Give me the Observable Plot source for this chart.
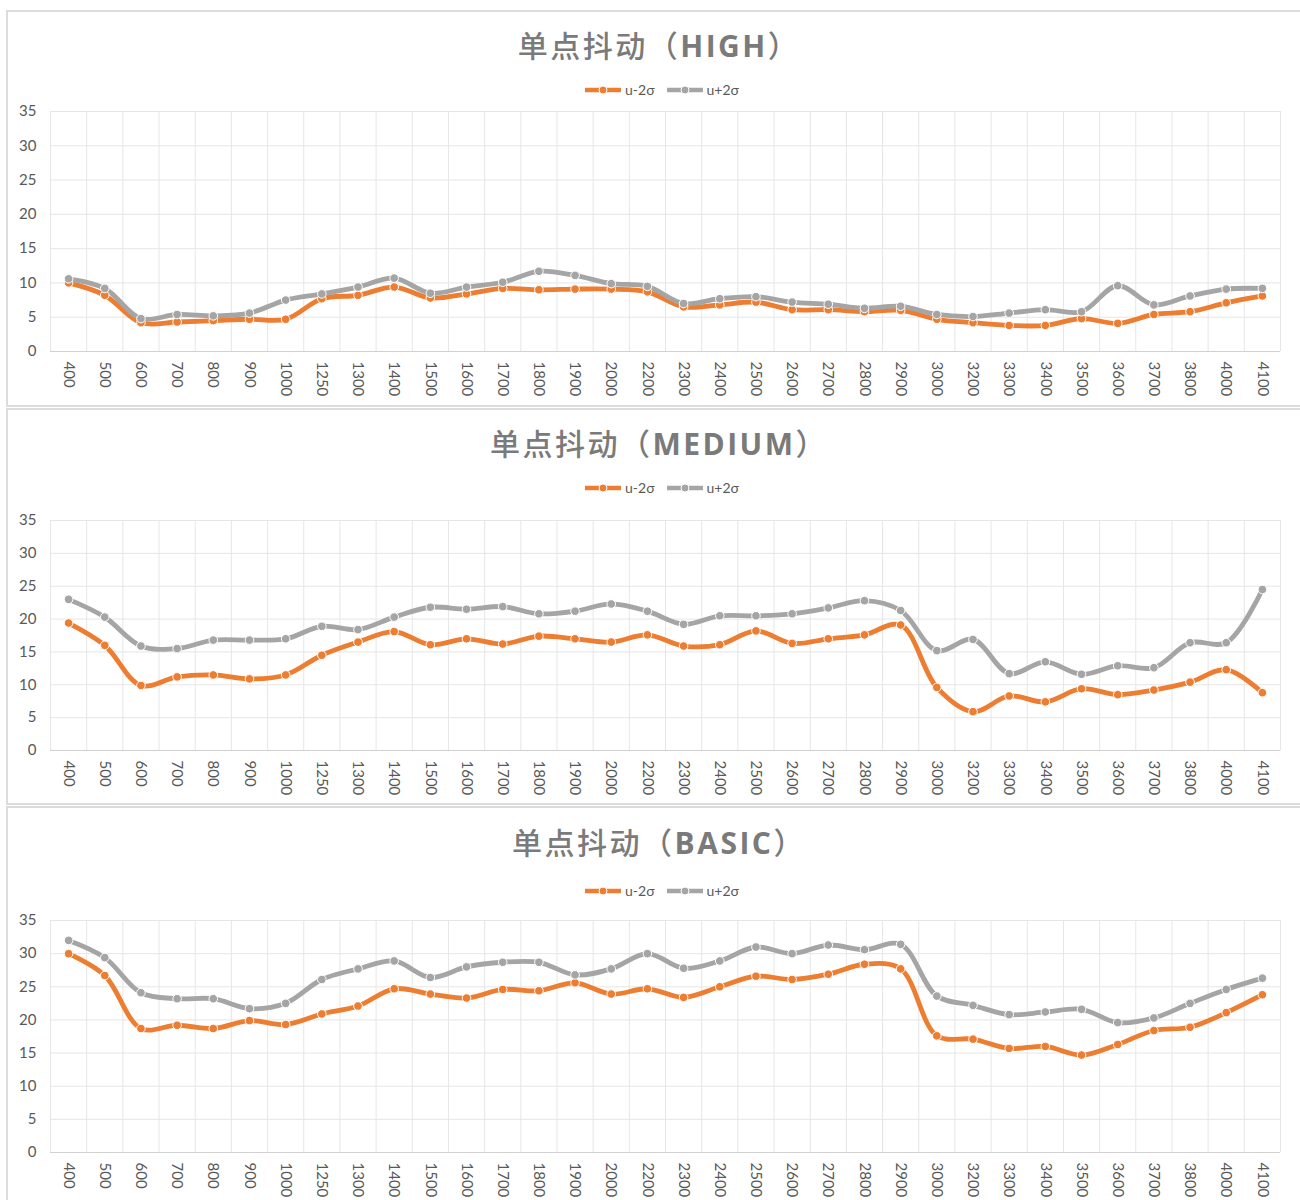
<!DOCTYPE html>
<html>
<head>
<meta charset="utf-8">
<script src="https://cdn.jsdelivr.net/npm/d3@7"></script>
<script src="https://cdn.jsdelivr.net/npm/@observablehq/plot@0.6"></script>
<style>
  html, body { margin: 0; padding: 0; background: #fff; }
  body { width: 1300px; height: 1200px; overflow: hidden; position: relative; font-family: Lato, "Noto Sans CJK SC", sans-serif; }
  .panel { position: absolute; left: 6px; width: 1310px; border: 2px solid #dcdcdc; box-sizing: border-box; background: #fff; }
  .title { position: absolute; left: 8px; width: 1302px; text-align: center; color: #7a7a7a; font-size: 30px; letter-spacing: 2.5px; line-height: 1; white-space: nowrap; }
  .title .cjk { font-family: "Noto Sans CJK SC", sans-serif; font-weight: 500; }
  .title .lat { font-family: "Open Sans", "Noto Sans", sans-serif; font-weight: 700; }
  .legend { position: absolute; left: 0; width: 1324px; text-align: center; font-size: 14px; color: #595959; line-height: 1; white-space: nowrap; }
  .legend .item { display: inline-flex; align-items: center; margin: 0 6px; }
  .legend svg { margin-right: 4px; }
  .chart { position: absolute; left: 0; }
</style>
</head>
<body>
<script>
// ---------- data ----------
const categories = ["400","500","600","700","800","900","1000","1250","1300","1400","1500","1600","1700","1800","1900","2000","2200","2300","2400","2500","2600","2700","2800","2900","3000","3200","3300","3400","3500","3600","3700","3800","4000","4100"];

const seriesNames = ["u-2σ", "u+2σ"];
const seriesColors = ["#ED7D31", "#A5A5A5"];

const highLow  = [10.0, 8.2, 4.2, 4.3, 4.5, 4.7, 4.7, 7.7, 8.2, 9.4, 7.8, 8.4, 9.2, 9.0, 9.1, 9.1, 8.7, 6.5, 6.8, 7.2, 6.1, 6.1, 5.8, 6.0, 4.7, 4.2, 3.8, 3.8, 4.8, 4.1, 5.4, 5.8, 7.1, 8.1];
const highHigh = [10.6, 9.2, 4.8, 5.4, 5.2, 5.6, 7.5, 8.4, 9.4, 10.7, 8.5, 9.4, 10.1, 11.7, 11.1, 9.9, 9.5, 7.0, 7.7, 8.0, 7.2, 6.9, 6.3, 6.6, 5.4, 5.1, 5.6, 6.1, 5.8, 9.6, 6.8, 8.1, 9.1, 9.2];

const mediumLow  = [19.4, 16.0, 9.9, 11.2, 11.5, 10.9, 11.5, 14.5, 16.5, 18.1, 16.1, 17.0, 16.2, 17.4, 17.0, 16.5, 17.6, 15.9, 16.1, 18.2, 16.3, 17.0, 17.6, 19.1, 9.6, 5.9, 8.3, 7.4, 9.4, 8.5, 9.2, 10.4, 12.3, 8.8];
const mediumHigh = [23.0, 20.3, 15.9, 15.5, 16.8, 16.8, 17.0, 18.9, 18.4, 20.3, 21.8, 21.5, 21.9, 20.8, 21.2, 22.3, 21.2, 19.2, 20.5, 20.5, 20.8, 21.7, 22.8, 21.3, 15.2, 16.9, 11.7, 13.5, 11.6, 12.9, 12.6, 16.4, 16.4, 24.5];

const basicLow  = [30.0, 26.7, 18.7, 19.2, 18.7, 19.9, 19.3, 20.9, 22.1, 24.7, 23.9, 23.3, 24.6, 24.4, 25.6, 23.9, 24.7, 23.4, 25.0, 26.6, 26.1, 26.9, 28.4, 27.7, 17.6, 17.1, 15.7, 16.0, 14.7, 16.3, 18.4, 18.9, 21.1, 23.8];
const basicHigh = [32.0, 29.4, 24.1, 23.2, 23.2, 21.7, 22.5, 26.1, 27.7, 28.9, 26.4, 28.0, 28.7, 28.7, 26.8, 27.7, 30.0, 27.8, 28.9, 31.0, 30.0, 31.3, 30.6, 31.4, 23.6, 22.2, 20.8, 21.2, 21.6, 19.6, 20.3, 22.5, 24.6, 26.3];

const yTicks = [0, 5, 10, 15, 20, 25, 30, 35];

const panels = [
  { label: "HIGH",   low: highLow,   high: highHigh,   top: 10,  boxH: 397, titleY: 29,  legendY: 83,  svgTop: 101, plotH: 240 },
  { label: "MEDIUM", low: mediumLow, high: mediumHigh, top: 408, boxH: 397, titleY: 427, legendY: 481, svgTop: 510, plotH: 230 },
  { label: "BASIC",  low: basicLow,  high: basicHigh,  top: 806, boxH: 420, titleY: 826, legendY: 884, svgTop: 910, plotH: 232 }
];

// ---------- build ----------
const body = document.body;

function legendSwatch(color) {
  return `<svg width="36" height="10" viewBox="0 0 36 10"><line x1="0" y1="5" x2="36" y2="5" stroke="${color}" stroke-width="4.5"/><circle cx="18" cy="5" r="4" fill="${color}" stroke="#fff" stroke-width="1"/></svg>`;
}

panels.forEach(p => {
  const box = document.createElement("div");
  box.className = "panel";
  box.style.top = p.top + "px";
  box.style.height = p.boxH + "px";
  body.appendChild(box);

  const title = document.createElement("div");
  title.className = "title";
  title.style.top = p.titleY + "px";
  title.innerHTML = `<span class="cjk">单点抖动（</span><span class="lat">${p.label}</span><span class="cjk">）</span>`;
  body.appendChild(title);

  const legend = document.createElement("div");
  legend.className = "legend";
  legend.style.top = p.legendY + "px";
  legend.innerHTML = seriesNames.map((n, i) => `<span class="item">${legendSwatch(seriesColors[i])}<span>${n}</span></span>`).join("");
  body.appendChild(legend);

  const rows = [];
  categories.forEach((c, i) => {
    rows.push({ i, cat: c, series: seriesNames[0], value: p.low[i] });
  });
  categories.forEach((c, i) => {
    rows.push({ i, cat: c, series: seriesNames[1], value: p.high[i] });
  });
  const boundaries = categories.map((c, i) => i - 0.5).concat([categories.length - 0.5]);

  const mt = 10, mb = 50;
  const chart = Plot.plot({
    width: 1300,
    height: mt + p.plotH + mb,
    marginTop: mt,
    marginBottom: mb,
    marginLeft: 50,
    marginRight: 20,
    style: { fontFamily: "Lato, 'Noto Sans', sans-serif", fontSize: "15px", color: "#595959", background: "transparent" },
    x: { type: "linear", domain: [-0.5, categories.length - 0.5], ticks: categories.map((c, i) => i), tickFormat: i => categories[i], tickRotate: 90, tickSize: 0, tickPadding: 10, label: null },
    y: { domain: [0, 35], ticks: yTicks, tickSize: 0, tickPadding: 14, label: null },
    color: { domain: seriesNames, range: seriesColors },
    marks: [
      Plot.ruleX(boundaries, { stroke: "#e6e6e6", strokeWidth: 1 }),
      Plot.ruleY(yTicks.filter(t => t > 0), { stroke: "#e6e6e6", strokeWidth: 1 }),
      Plot.ruleY([0], { stroke: "#d0d0d0", strokeWidth: 1.2 }),
      Plot.line(rows, { x: "i", y: "value", z: "series", stroke: "series", strokeWidth: 4.8, curve: "catmull-rom" }),
      Plot.dot(rows, { x: "i", y: "value", fill: "series", stroke: "#fff", strokeWidth: 1, r: 4.3 })
    ]
  });
  chart.classList.add("chart");
  chart.style.position = "absolute";
  chart.style.top = p.svgTop + "px";
  chart.style.left = "0px";
  body.appendChild(chart);
});
</script>
</body>
</html>
